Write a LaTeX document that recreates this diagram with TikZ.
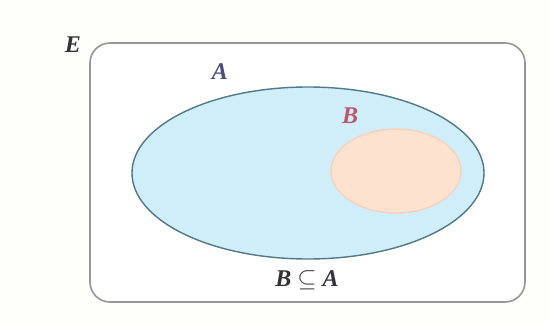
\documentclass[tikz,border=0pt]{standalone}
\usepackage{fontspec}
\setmainfont{Liberation Serif}
\usetikzlibrary{shapes.geometric}
\definecolor{bgcol}{RGB}{254,254,250}
\definecolor{boxcol}{RGB}{150,150,150}
\definecolor{afill}{RGB}{207,238,250}
\definecolor{aline}{RGB}{80,120,135}
\definecolor{bfill}{RGB}{253,226,208}
\definecolor{bline}{RGB}{245,210,190}
\definecolor{alab}{RGB}{75,75,130}
\definecolor{blab}{RGB}{190,85,105}
\definecolor{txt}{RGB}{50,50,55}
\tikzset{
  lab/.style={font=\fontsize{24}{28}\selectfont\bfseries\itshape, inner sep=0pt},
  setA/.style={ellipse, draw=aline, line width=1.4pt, fill=afill, minimum width=352pt, minimum height=172pt, inner sep=0pt},
  setB/.style={ellipse, draw=bline, line width=1.4pt, fill=bfill, minimum width=130pt, minimum height=84pt, inner sep=0pt},
  universe/.style={draw=boxcol, line width=1.6pt, fill=white, rounded corners=20pt, minimum width=435pt, minimum height=259pt, inner sep=0pt}
}
\begin{document}
\begin{tikzpicture}[x=1pt,y=-1pt]
\fill[bgcol] (0,0) rectangle (549,324);
\useasboundingbox (0,0) rectangle (549,324);
\node[universe] (E) at (307.5,172.5) {};
\node[setA] (A) at (308,173) {};
\node[setB] (B) at (396,171) {};
\node[lab, text=txt] (Elab) at (73,45) {E};
\node[lab, text=alab] (Alab) at (220,72) {A};
\node[lab, text=blab] (Blab) at (350,116) {B};
\node[lab, text=txt] (rel) at (307,280) {B {\upshape$\subseteq$} A};
\end{tikzpicture}
\end{document}
